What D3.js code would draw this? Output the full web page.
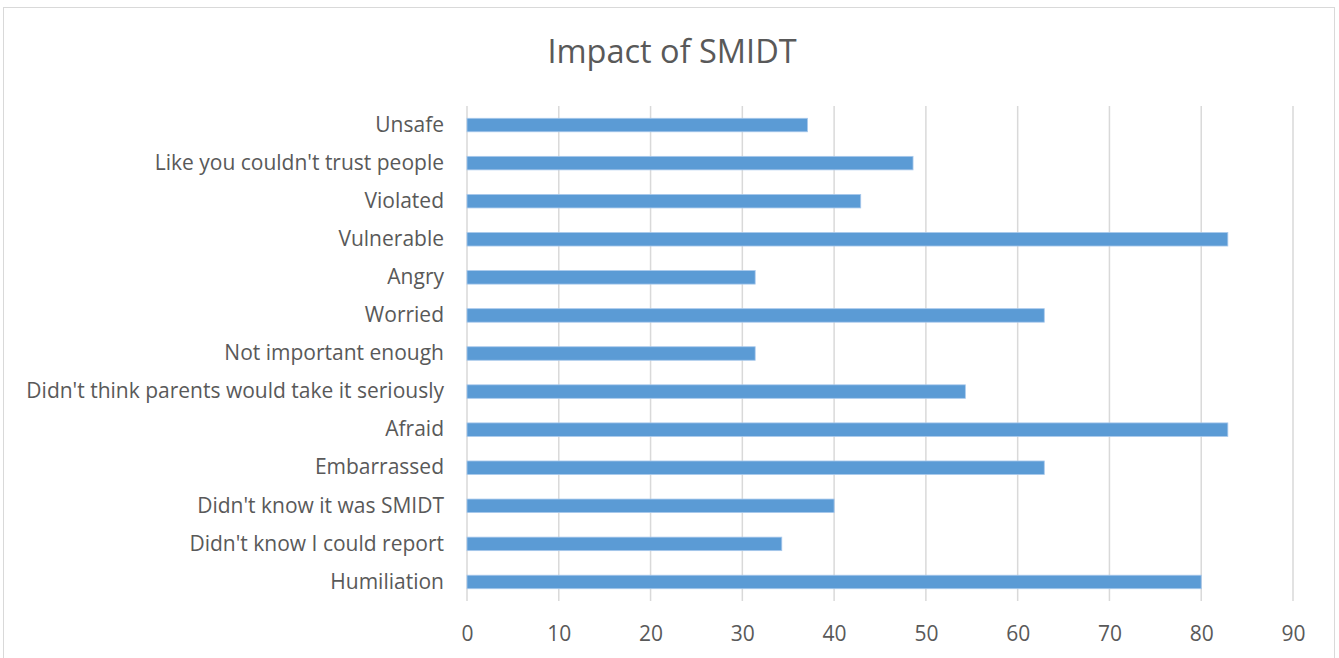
<!DOCTYPE html>
<html>
<head>
<meta charset="utf-8">
<script src="https://cdn.jsdelivr.net/npm/d3@7"></script>
<style>
  body { margin: 0; background: #fff; }
  text { font-family: "Open Sans", sans-serif; fill: #595959; }
</style>
</head>
<body>
<div id="chart"></div>
<script>
const width = 1339;
const height = 658;
const margin = {top: 106, right: 46, bottom: 57, left: 467};

// categories listed bottom to top, as in the source sheet
const categories = [
  "Humiliation",
  "Didn't know I could report",
  "Didn't know it was SMIDT",
  "Embarrassed",
  "Afraid",
  "Didn't think parents would take it seriously",
  "Not important enough",
  "Worried",
  "Angry",
  "Vulnerable",
  "Violated",
  "Like you couldn't trust people",
  "Unsafe"
];
const values = [80.0, 34.3, 40.0, 62.9, 82.9, 54.3, 31.4, 62.9, 31.4, 82.9, 42.9, 48.6, 37.1];
const xTicks = [0, 10, 20, 30, 40, 50, 60, 70, 80, 90];

const data = categories.map((c, i) => ({name: c, value: values[i]}));

const svg = d3.select("#chart")
  .append("svg")
  .attr("width", width)
  .attr("height", height);

// chart border
svg.append("rect")
  .attr("x", 3.5)
  .attr("y", 7.5)
  .attr("width", 1331)
  .attr("height", 660)
  .attr("fill", "none")
  .attr("stroke", "#d9d9d9")
  .attr("stroke-width", 1);

svg.append("text")
  .attr("x", 672)
  .attr("y", 63)
  .attr("text-anchor", "middle")
  .attr("font-size", 32.5)
  .text("Impact of SMIDT");

const x = d3.scaleLinear()
  .domain([0, 90])
  .range([margin.left, width - margin.right]);

const y = d3.scaleBand()
  .domain(categories.slice().reverse())
  .range([margin.top, height - margin.bottom])
  .paddingInner(0.645)
  .paddingOuter(0.3225);

// vertical gridlines
svg.append("g")
  .selectAll("line")
  .data(xTicks)
  .join("line")
  .attr("x1", d => x(d))
  .attr("x2", d => x(d))
  .attr("y1", margin.top)
  .attr("y2", height - margin.bottom)
  .attr("stroke", "#d9d9d9")
  .attr("stroke-width", 1.5);

// x axis labels
const xAxis = svg.append("g")
  .attr("transform", `translate(0,${height - margin.bottom})`)
  .call(d3.axisBottom(x).tickValues(xTicks).tickSize(0).tickPadding(25));
xAxis.select(".domain").remove();
xAxis.selectAll("text")
  .attr("font-size", 21)
  .style("font-family", "'Open Sans', sans-serif")
  .attr("fill", "#595959");

// y axis labels
const yAxis = svg.append("g")
  .attr("transform", `translate(${margin.left},0)`)
  .call(d3.axisLeft(y).tickSize(0).tickPadding(23));
yAxis.select(".domain").remove();
yAxis.selectAll("text")
  .attr("font-size", 21)
  .style("font-family", "'Open Sans', sans-serif")
  .attr("fill", "#595959");

svg.append("g")
  .selectAll("rect")
  .data(data)
  .join("rect")
  .attr("x", x(0))
  .attr("y", d => y(d.name))
  .attr("width", d => x(d.value) - x(0))
  .attr("height", y.bandwidth())
  .attr("fill", "#5b9bd5")
  .attr("stroke", "#a9c9ec")
  .attr("stroke-width", 0.8);
</script>
</body>
</html>
